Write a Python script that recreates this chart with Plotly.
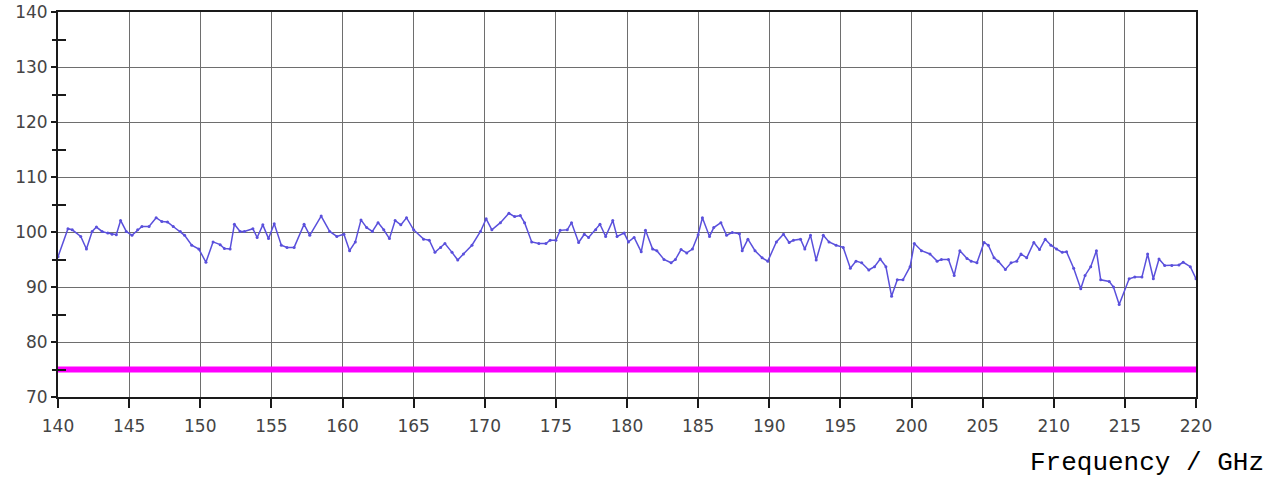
import plotly.graph_objects as go

# Measured level versus frequency
freq_ghz = [
    140.0, 140.7, 141.0, 141.6, 142.0, 142.4, 142.7, 143.1, 143.5, 143.8,
    144.1, 144.4, 144.8, 145.2, 145.6, 145.9, 146.4, 146.9, 147.3, 147.7,
    148.1, 148.6, 148.9, 149.4, 149.9, 150.4, 150.9, 151.4, 151.7, 152.1,
    152.4, 152.8, 153.1, 153.7, 154.0, 154.4, 154.8, 155.2, 155.7, 156.1,
    156.6, 157.3, 157.7, 158.5, 159.1, 159.6, 160.1, 160.5, 160.9, 161.3,
    161.7, 162.1, 162.5, 162.9, 163.3, 163.7, 164.1, 164.5, 165.0, 165.7,
    166.1, 166.5, 166.9, 167.2, 167.7, 168.1, 168.5, 169.1, 169.7, 170.1,
    170.5, 171.1, 171.7, 172.1, 172.5, 172.8, 173.3, 173.8, 174.3, 174.6,
    175.0, 175.3, 175.8, 176.1, 176.6, 177.0, 177.3, 177.8, 178.1, 178.5,
    179.0, 179.3, 179.8, 180.1, 180.5, 181.0, 181.3, 181.8, 182.1, 182.6,
    183.1, 183.4, 183.8, 184.2, 184.6, 185.0, 185.3, 185.8, 186.1, 186.6,
    187.0, 187.4, 187.9, 188.1, 188.5, 189.0, 189.5, 189.9, 190.5, 191.0,
    191.4, 191.7, 192.2, 192.5, 192.9, 193.3, 193.8, 194.2, 194.7, 195.2,
    195.7, 196.1, 196.5, 197.0, 197.4, 197.8, 198.2, 198.6, 199.0, 199.4,
    199.9, 200.2, 200.7, 201.3, 201.8, 202.1, 202.6, 203.0, 203.4, 203.9,
    204.2, 204.6, 205.1, 205.4, 205.8, 206.1, 206.6, 207.0, 207.4, 207.7,
    208.1, 208.6, 209.0, 209.4, 209.8, 210.2, 210.6, 210.9, 211.4, 211.9,
    212.2, 212.6, 213.0, 213.3, 213.9, 214.2, 214.6, 215.3, 215.7, 216.2,
    216.6, 217.0, 217.4, 217.8, 218.3, 218.8, 219.1, 219.6, 220.0,
]
level = [
    95.5, 100.6, 100.4, 99.2, 96.9, 100.1, 100.9, 100.1, 99.8, 99.6,
    99.5, 102.1, 100.1, 99.4, 100.4, 101.0, 101.0, 102.6, 101.9, 101.8,
    101.0, 100.1, 99.4, 97.6, 96.9, 94.5, 98.2, 97.7, 97.0, 96.9,
    101.4, 100.1, 100.1, 100.6, 99.0, 101.3, 98.8, 101.5, 97.6, 97.2,
    97.2, 101.4, 99.4, 102.9, 100.1, 99.2, 99.6, 96.6, 98.2, 102.2,
    100.8, 100.1, 101.7, 100.4, 98.8, 102.1, 101.3, 102.6, 100.4, 98.7,
    98.5, 96.3, 97.2, 97.9, 96.3, 94.9, 96.0, 97.6, 100.1, 102.4,
    100.4, 101.7, 103.4, 102.8, 103.0, 101.7, 98.2, 97.9, 97.9, 98.5,
    98.5, 100.3, 100.4, 101.7, 98.1, 99.6, 99.0, 100.4, 101.4, 99.2,
    102.1, 99.2, 99.8, 98.2, 99.0, 96.4, 100.3, 96.9, 96.6, 95.0,
    94.4, 95.0, 96.8, 96.2, 96.9, 99.5, 102.6, 99.2, 100.8, 101.7,
    99.4, 99.9, 99.7, 96.6, 98.7, 96.6, 95.3, 94.7, 98.2, 99.6,
    98.1, 98.5, 98.7, 96.9, 99.4, 94.9, 99.4, 98.2, 97.6, 97.2,
    93.4, 94.7, 94.4, 93.1, 93.7, 95.1, 93.7, 88.3, 91.3, 91.3,
    93.7, 97.9, 96.6, 96.0, 94.7, 95.0, 95.0, 92.1, 96.6, 95.2,
    94.7, 94.4, 98.1, 97.6, 95.3, 94.7, 93.2, 94.4, 94.7, 96.0,
    95.3, 98.1, 96.8, 98.7, 97.6, 96.9, 96.3, 96.4, 93.4, 89.7,
    92.1, 93.7, 96.6, 91.3, 91.0, 90.0, 86.8, 91.5, 91.8, 91.8,
    96.0, 91.5, 95.1, 93.9, 93.9, 94.0, 94.5, 93.7, 91.5,
]

# Limit line
limit_freq = [140, 220]
limit_level = [75, 75]

x_ticks = list(range(140, 221, 5))
y_major = list(range(70, 141, 10))
y_minor = list(range(75, 140, 10))

tick_font = dict(family="DejaVu Sans, Verdana, Arial", size=17, color="#444444")
grid_col = "#6e6e6e"
axis_col = "#1a1a1a"

fig = go.Figure()

fig.add_trace(go.Scatter(
    x=limit_freq, y=limit_level, mode="lines",
    line=dict(color="#ff00ff", width=6),
    showlegend=False, hoverinfo="skip",
))

fig.add_trace(go.Scatter(
    x=freq_ghz, y=level, mode="lines+markers",
    line=dict(color="#5a50dc", width=1.5),
    marker=dict(color="#5a50dc", size=3),
    showlegend=False,
))

# Invisible trace on the overlay axis so it gets drawn
fig.add_trace(go.Scatter(
    x=[140], y=[70], yaxis="y2", mode="markers",
    marker=dict(opacity=0), showlegend=False, hoverinfo="skip",
))

fig.update_layout(
    width=1274, height=477,
    margin=dict(l=58, r=78, t=12, b=80, autoexpand=False),
    paper_bgcolor="white",
    plot_bgcolor="white",
    xaxis=dict(
        range=[140, 220], automargin=False,
        tickmode="array", tickvals=x_ticks,
        ticks="outside", ticklen=9, tickwidth=1.5, tickcolor=axis_col,
        tickfont=tick_font, ticklabelstandoff=4,
        showgrid=True, gridcolor=grid_col, gridwidth=1,
        showline=True, linecolor=axis_col, linewidth=2, mirror=True,
        zeroline=False,
    ),
    yaxis=dict(
        range=[70, 140], automargin=False,
        tickmode="array", tickvals=y_major,
        ticks="outside", ticklen=5, tickwidth=1.5, tickcolor=axis_col,
        tickfont=tick_font,
        showgrid=True, gridcolor=grid_col, gridwidth=1,
        showline=True, linecolor=axis_col, linewidth=2, mirror=True,
        zeroline=False,
        minor=dict(tickmode="array", tickvals=y_minor, ticks="inside",
                   ticklen=8, tickwidth=1.5, tickcolor=axis_col, showgrid=False),
    ),
    yaxis2=dict(
        range=[70, 140], overlaying="y", side="left", automargin=False,
        tickmode="array", tickvals=y_minor, ticktext=[""] * len(y_minor),
        ticks="outside", ticklen=5, tickwidth=1.5, tickcolor=axis_col,
        showgrid=False, showline=False, zeroline=False,
    ),
    annotations=[dict(
        text="Frequency / GHz",
        xref="paper", yref="paper",
        x=1.0615, y=-0.171, xanchor="right", yanchor="middle",
        showarrow=False,
        font=dict(family="Courier New, Liberation Mono, monospace",
                  size=26, color="#000000"),
    )],
)

fig.write_html("out.html")
